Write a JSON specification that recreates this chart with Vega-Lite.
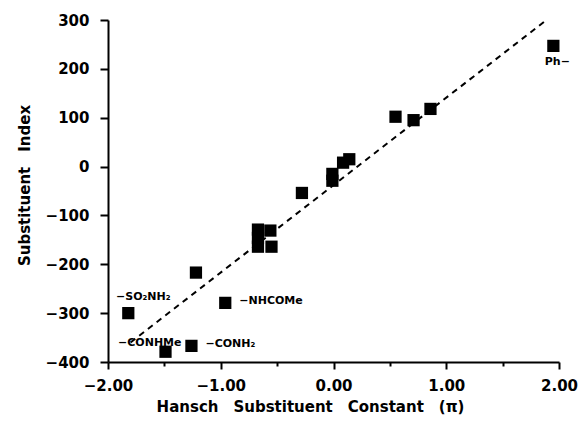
{
  "$schema": "https://vega.github.io/schema/vega-lite/v6.json",
  "width": 451,
  "height": 342,
  "autosize": {"type": "none"},
  "padding": {"left": 108, "top": 20, "right": 20, "bottom": 68},
  "background": "white",
  "config": {"view": {"stroke": null}, "font": "DejaVu Sans"},
  "datasets": {
    "points": [
      {"pi": -1.82, "index": -300, "label": "−SO₂NH₂"},
      {"pi": -1.49, "index": -379, "label": "−CONHMe"},
      {"pi": -1.26, "index": -367, "label": "−CONH₂"},
      {"pi": -1.22, "index": -217, "label": ""},
      {"pi": -0.96, "index": -279, "label": "−NHCOMe"},
      {"pi": -0.67, "index": -129, "label": ""},
      {"pi": -0.56, "index": -131, "label": ""},
      {"pi": -0.67, "index": -146, "label": ""},
      {"pi": -0.67, "index": -164, "label": ""},
      {"pi": -0.55, "index": -164, "label": ""},
      {"pi": -0.28, "index": -54, "label": ""},
      {"pi": -0.01, "index": -15, "label": ""},
      {"pi": -0.01, "index": -29, "label": ""},
      {"pi": 0.085, "index": 8, "label": ""},
      {"pi": 0.14, "index": 15, "label": ""},
      {"pi": 0.55, "index": 102, "label": ""},
      {"pi": 0.71, "index": 95, "label": ""},
      {"pi": 0.86, "index": 118, "label": ""},
      {"pi": 1.95, "index": 247, "label": "Ph−"}
    ],
    "fit": [
      {"pi": -1.8, "index": -360},
      {"pi": 1.9, "index": 302}
    ]
  },
  "encoding": {
    "x": {
      "field": "pi",
      "type": "quantitative",
      "scale": {"domain": [-2, 2], "nice": false, "zero": false},
      "axis": {
        "values": [-2, -1.5, -1, -0.5, 0, 0.5, 1, 1.5, 2],
        "format": ".2f",
        "labelExpr": "datum.value % 1 === 0 ? datum.label : ''",
        "grid": false,
        "domainColor": "black",
        "domainWidth": 2,
        "tickColor": "black",
        "tickWidth": 2,
        "tickSize": {"condition": {"test": "datum.value % 1 === 0", "value": 7}, "value": 4},
        "labelColor": "black",
        "labelFontSize": 15,
        "labelFontWeight": "bold",
        "labelPadding": 9,
        "labelFlush": false,
        "title": "Hansch\u2003Substituent\u2003Constant\u2003(π)",
        "titleColor": "black",
        "titleFontSize": 15,
        "titleFontWeight": "bold",
        "titlePadding": 6,
        "titleX": 202
      }
    },
    "y": {
      "field": "index",
      "type": "quantitative",
      "scale": {"domain": [-400, 300], "nice": false, "zero": false},
      "axis": {
        "values": [-400, -300, -200, -100, 0, 100, 200, 300],
        "grid": false,
        "domainColor": "black",
        "domainWidth": 2,
        "tickColor": "black",
        "tickWidth": 2,
        "tickSize": 8,
        "labelColor": "black",
        "labelFontSize": 15,
        "labelFontWeight": "bold",
        "labelPadding": 11,
        "labelFlush": false,
        "title": "Substituent\u2003Index",
        "titleColor": "black",
        "titleFontSize": 15,
        "titleFontWeight": "bold",
        "titlePadding": 13,
        "titleY": 165
      }
    }
  },
  "layer": [
    {
      "data": {"name": "fit"},
      "mark": {"type": "line", "color": "black", "strokeWidth": 2, "strokeDash": [6, 5]}
    },
    {
      "data": {"name": "points"},
      "mark": {"type": "square", "size": 150, "color": "black", "filled": true, "opacity": 1}
    },
    {
      "data": {"name": "points"},
      "transform": [{"filter": "datum.label === '−SO₂NH₂'"}],
      "mark": {"type": "text", "fontSize": 11, "fontWeight": "bold", "color": "black", "align": "center", "baseline": "middle", "dx": 15, "dy": -16},
      "encoding": {"text": {"field": "label"}}
    },
    {
      "data": {"name": "points"},
      "transform": [{"filter": "datum.label === '−CONHMe'"}],
      "mark": {"type": "text", "fontSize": 11, "fontWeight": "bold", "color": "black", "align": "right", "baseline": "middle", "dx": 16, "dy": -9},
      "encoding": {"text": {"field": "label"}}
    },
    {
      "data": {"name": "points"},
      "transform": [{"filter": "datum.label === '−CONH₂' || datum.label === '−NHCOMe'"}],
      "mark": {"type": "text", "fontSize": 11, "fontWeight": "bold", "color": "black", "align": "left", "baseline": "middle", "dx": 14, "dy": -2},
      "encoding": {"text": {"field": "label"}}
    },
    {
      "data": {"name": "points"},
      "transform": [{"filter": "datum.label === 'Ph−'"}],
      "mark": {"type": "text", "fontSize": 11, "fontWeight": "bold", "color": "black", "align": "center", "baseline": "middle", "dx": 4, "dy": 16},
      "encoding": {"text": {"field": "label"}}
    }
  ]
}
